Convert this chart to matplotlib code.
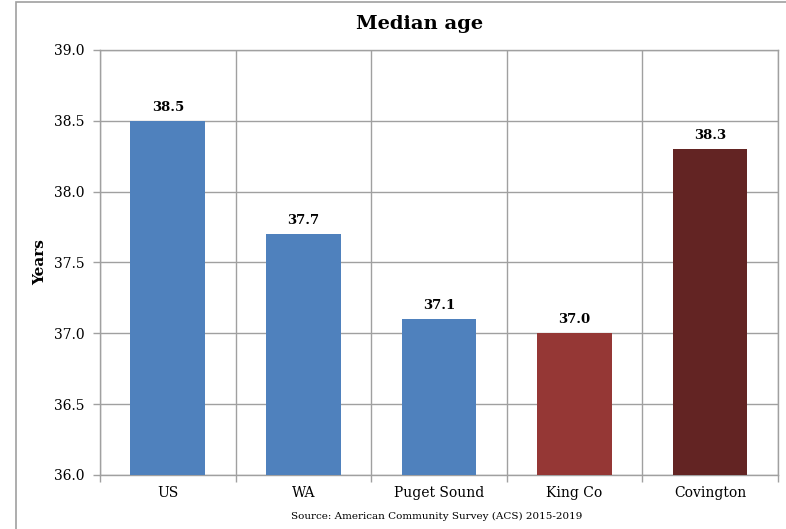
import matplotlib
matplotlib.use("Agg")
import matplotlib.pyplot as plt
from matplotlib.patches import Rectangle

categories = ["US", "WA", "Puget Sound", "King Co", "Covington"]
median_age = [38.5, 37.7, 37.1, 37.0, 38.3]
bar_colors = ["#4F81BD", "#4F81BD", "#4F81BD", "#953735", "#632423"]
y_ticks = [36.0, 36.5, 37.0, 37.5, 38.0, 38.5, 39.0]

plt.rcParams["font.family"] = ["DejaVu Serif"]

fig = plt.figure(figsize=(7.86, 5.29), dpi=100)
ax = fig.add_axes([0.1272, 0.1021, 0.8626, 0.8034])

x = list(range(len(categories)))
ax.bar(x, median_age, width=0.55, color=bar_colors, zorder=3)

for xi, v in zip(x, median_age):
    ax.annotate(f"{v:.1f}", (xi, v), xytext=(0, 5), textcoords="offset points",
                ha="center", va="bottom", fontsize=9.5, fontweight="bold", zorder=4)

ax.set_xlim(-0.5, len(categories) - 0.5)
ax.set_ylim(36.0, 39.0)
ax.set_yticks(y_ticks)
ax.set_yticklabels([f"{t:.1f}" for t in y_ticks], fontsize=10)

# category labels centred under bars, ticks on category boundaries
ax.set_xticks(x)
ax.set_xticklabels(categories, fontsize=10)
ax.tick_params(axis="x", length=0, pad=8)
ax.set_xticks([i - 0.5 for i in range(len(categories) + 1)], minor=True)
ax.tick_params(axis="x", which="minor", length=5, color="#A0A0A0", width=1)
ax.tick_params(axis="y", length=5, color="#A0A0A0", width=1, pad=6)

ax.grid(True, axis="y", which="major", color="#A0A0A0", linewidth=1, zorder=0)
ax.grid(True, axis="x", which="minor", color="#A0A0A0", linewidth=1, zorder=0)
ax.grid(False, axis="x", which="major")
for s in ax.spines.values():
    s.set_color("#A0A0A0")
    s.set_linewidth(1)

ax.set_ylabel("Years", fontsize=11, fontweight="bold", labelpad=5)
fig.text(0.534, 0.955, "Median age", ha="center", va="center",
         fontsize=14, fontweight="bold")
fig.text(0.556, 0.024, "Source: American Community Survey (ACS) 2015-2019",
         ha="center", va="center", fontsize=7.5)

# outer chart frame
fig.patches.append(Rectangle((16 / 786, -0.05), 1.0, 1 - 2 / 529 + 0.05,
                             transform=fig.transFigure, fill=False,
                             edgecolor="#A0A0A0", linewidth=1.2))

fig.savefig("out.png", dpi=100)
